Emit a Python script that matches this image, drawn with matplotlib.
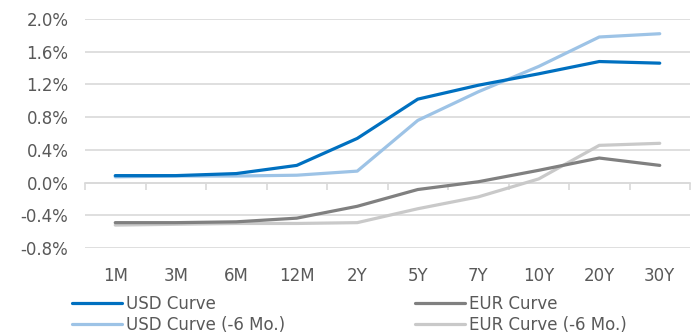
import matplotlib
matplotlib.use("Agg")
import matplotlib.pyplot as plt
from matplotlib.ticker import FuncFormatter, FixedLocator
import numpy as np

categories = ["1M", "3M", "6M", "12M", "2Y", "5Y", "7Y", "10Y", "20Y", "30Y"]
usd_curve = [0.085, 0.085, 0.11, 0.21, 0.54, 1.02, 1.19, 1.33, 1.48, 1.46]
usd_curve_6m = [0.07, 0.08, 0.08, 0.09, 0.14, 0.76, 1.11, 1.42, 1.78, 1.82]
eur_curve = [-0.49, -0.49, -0.48, -0.435, -0.29, -0.085, 0.01, 0.15, 0.30, 0.21]
eur_curve_6m = [-0.52, -0.51, -0.50, -0.50, -0.49, -0.32, -0.175, 0.045, 0.455, 0.48]
y_ticks = [-0.8, -0.4, 0.0, 0.4, 0.8, 1.2, 1.6, 2.0]

txt = "#595959"
plt.rcParams["font.family"] = ["DejaVu Sans"]

fig = plt.figure(figsize=(6.94, 3.35), dpi=100)
ax = fig.add_axes([85 / 694, 1 - 248 / 335, 605 / 694, 229 / 335])

x = np.arange(len(categories))
lw = 2.3
l1, = ax.plot(x, usd_curve, color="#0070C0", lw=lw, solid_capstyle="round", zorder=5, label="USD Curve")
l2, = ax.plot(x, usd_curve_6m, color="#9DC3E6", lw=lw, solid_capstyle="round", zorder=4, label="USD Curve (-6 Mo.)")
l3, = ax.plot(x, eur_curve, color="#808080", lw=lw, solid_capstyle="round", zorder=3, label="EUR Curve")
l4, = ax.plot(x, eur_curve_6m, color="#C9C9C9", lw=lw, solid_capstyle="round", zorder=2, label="EUR Curve (-6 Mo.)")

ax.set_xlim(-0.5, len(categories) - 0.5)
ax.set_ylim(y_ticks[0], y_ticks[-1])
ax.set_yticks(y_ticks)
ax.yaxis.set_major_formatter(FuncFormatter(lambda v, p: f"{v:.1f}%"))
ax.grid(axis="y", color="#D9D9D9", lw=1.2, zorder=0)
ax.set_axisbelow(True)
for s in ax.spines.values():
    s.set_visible(False)

ax.set_xticks(x)
ax.set_xticklabels(categories)
ax.tick_params(axis="x", length=0, pad=14, labelsize=12, colors=txt)
ax.tick_params(axis="y", length=0, pad=12, labelsize=12, colors=txt)

# category axis line at zero with tick marks between categories
sec = ax.secondary_xaxis(0, transform=ax.transData)
sec.spines["bottom"].set_color("#D9D9D9")
sec.spines["bottom"].set_linewidth(1.2)
sec.xaxis.set_major_locator(FixedLocator(np.arange(-0.5, len(categories), 1.0)))
sec.tick_params(axis="x", direction="out", length=5, width=1.2, color="#D9D9D9", labelbottom=False)

fig.legend(handles=[l1, l2, l3, l4], ncol=2, loc="upper left",
           bbox_to_anchor=(60 / 694, 1 - 283 / 335), frameon=False,
           fontsize=12, labelcolor=txt, handlelength=3.0, handletextpad=0.25,
           columnspacing=7.8, labelspacing=0.2, borderpad=0.2)

fig.savefig("out.png", dpi=100)
